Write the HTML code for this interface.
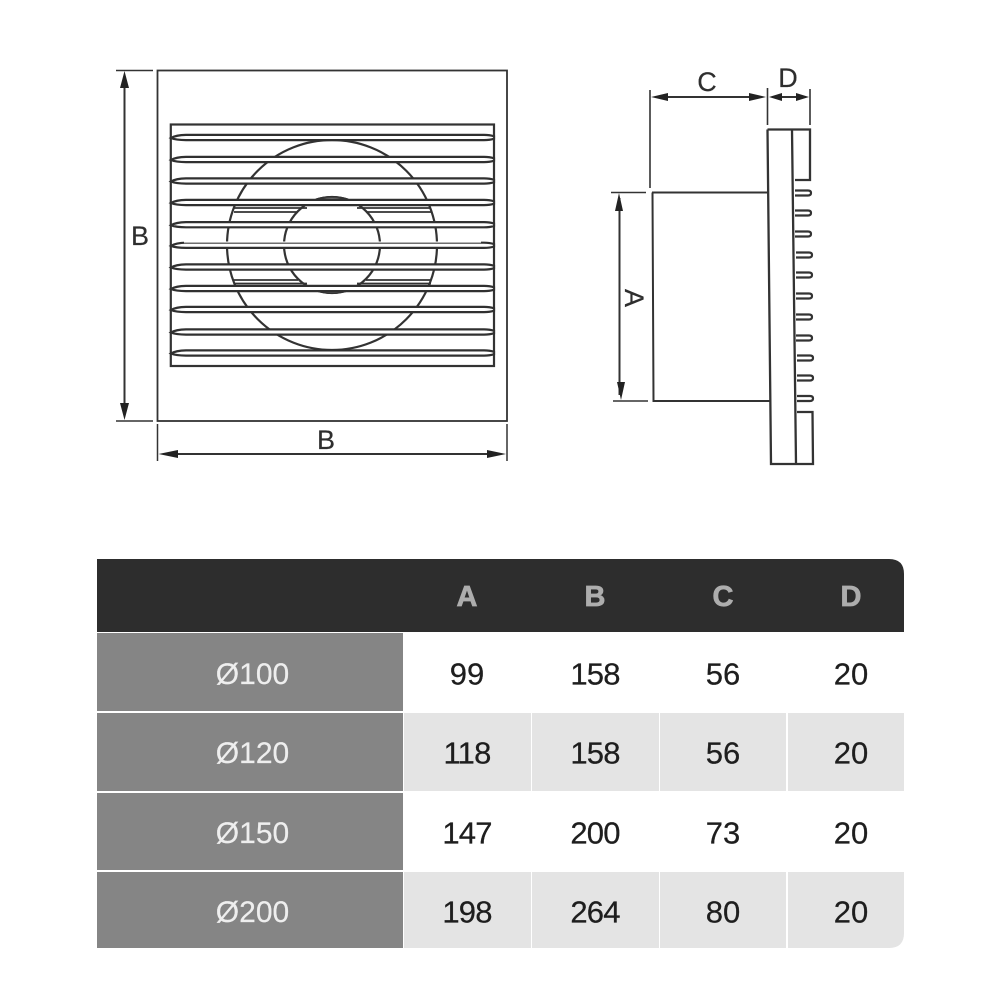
<!DOCTYPE html>
<html><head><meta charset="utf-8"><style>
html,body{margin:0;padding:0;background:#fff}
svg{display:block}
text{font-family:"Liberation Sans",sans-serif}
</style></head><body>
<svg width="1000" height="1000" viewBox="0 0 1000 1000" xmlns="http://www.w3.org/2000/svg">
<defs>
<g id="s"><path d="M171 0.5 Q176 -2.4 186 -2.6 H484 Q490 -2.6 494 -1.2 V1.2 Q490 2.6 484 2.6 H186 Q176 2.6 171 0.5Z" fill="#fff" stroke="#303030" stroke-width="2.2"/></g>
</defs>
<g fill="none" stroke="#333">
<rect x="157.500" y="70.500" width="349.500" height="350.500" stroke-width="1.800"/>
<rect x="170.800" y="124.500" width="323.200" height="241.500" stroke-width="2.200"/>
<circle cx="332" cy="245" r="105" stroke-width="2.200"/>
<circle cx="332" cy="245" r="48" stroke-width="2.200"/>
<path d="M234 208H307M234 212H298M234 280H298M234 283.500H307M357 208H431M366 212H431M366 280H431M357 283.500H431" stroke-width="1.800"/>
<path d="M316 199Q332 194 348 199Q332 197 316 199ZM316 291Q332 296 348 291Q332 293 316 291Z" fill="#555" stroke-width="1"/>
</g>
<use href="#s" y="137.500"/><use href="#s" y="159.500"/><use href="#s" y="181"/><use href="#s" y="202.500"/><use href="#s" y="224.700"/><use href="#s" y="245.300"/><use href="#s" y="267"/><use href="#s" y="288.500"/><use href="#s" y="309.500"/><use href="#s" y="332"/><use href="#s" y="353"/>
<path d="M184 242.700H481" stroke="#fff" stroke-width="2.400" fill="none"/>
<path d="M184 243.200H481" stroke="#6e6e6e" stroke-width="1.500" fill="none"/>
<g fill="none" stroke="#333">
<path d="M116 70.500H153M116 421H153M157.500 424V461M507 424V461" stroke-width="1.500"/>
<path d="M124.500 78V412M168 454H498" stroke-width="2"/>
<path d="M650 90V188M767.500 88V125M810 89V125M611 192.500H646M613 401H648" stroke-width="1.600"/>
<path d="M655 97H762M772 97H806M619.500 198V395" stroke-width="2"/>
<path d="M652 192.500H768M652.500 192.500L653.500 401H770" stroke-width="2"/>
<path d="M767.500 129.500H810V180H795M767.500 129.500L771 464H813L812.500 412H797M792 129.500L796 464" stroke-width="2.300"/>
<path d="M795 190.500H808Q811 190.500 811 193Q811 195.500 808 195.500H795M795 210.500H808Q811 210.500 811 213Q811 215.500 808 215.500H795M795 231.500H808Q811 231.500 811 234Q811 236.500 808 236.500H795M796 252.500H809Q812 252.500 812 255Q812 257.500 809 257.500H796M796 272.500H809Q812 272.500 812 275Q812 277.500 809 277.500H796M796 293.500H809Q812 293.500 812 296Q812 298.500 809 298.500H796M796 314.500H809Q812 314.500 812 317Q812 319.500 809 319.500H796M796 335.500H809Q812 335.500 812 338Q812 340.500 809 340.500H796M797 355.500H810Q813 355.500 813 358Q813 360.500 810 360.500H797M797 375.500H810Q813 375.500 813 378Q813 380.500 810 380.500H797M797 396H810Q813 396 813 398.500Q813 401 810 401H797" stroke-width="2.200"/>
</g>
<g fill="#222">
<path d="M124.500 71L120 88H129ZM124.500 420L120 403H129Z"/>
<path d="M158.500 454L178 450V458ZM506 454L487 450V458Z"/>
<path d="M651 97L668 93V101ZM766 97L749 93V101ZM769 97L782 93V101ZM809 97L796 93V101Z"/>
<path d="M619 193L615 211H623ZM621 400L617 382H625Z"/>
</g>
<g fill="#2e2e2e" font-size="27" stroke="#2e2e2e" stroke-width="0.200">
<text x="140" y="245" text-anchor="middle">B</text>
<text x="326" y="449" text-anchor="middle">B</text>
<text x="707" y="91" text-anchor="middle">C</text>
<text x="788" y="87" text-anchor="middle">D</text>
<text transform="translate(625 298) rotate(90)" text-anchor="middle">A</text>
</g>
<path d="M97 559H889Q904 559 904 574V632H97Z" fill="#2d2d2d"/>
<g fill="#858585">
<rect x="97" y="633" width="306" height="78"/>
<rect x="97" y="713" width="306" height="78"/>
<rect x="97" y="793" width="306" height="77"/>
<rect x="97" y="872" width="306" height="76"/>
</g>
<g fill="#e4e4e4">
<rect x="404" y="713" width="127" height="78"/><rect x="532" y="713" width="127" height="78"/><rect x="660" y="713" width="126" height="78"/><rect x="788" y="713" width="116" height="78"/>
<rect x="404" y="872" width="127" height="76"/><rect x="532" y="872" width="127" height="76"/><rect x="660" y="872" width="126" height="76"/>
<path d="M788 872H904V933Q904 948 889 948H788Z"/>
</g>
<g fill="#adadad" stroke="#adadad" stroke-width="0.700" font-size="29" font-weight="bold" text-anchor="middle">
<text x="467" y="606">A</text><text x="595" y="606">B</text><text x="723" y="606">C</text><text x="851" y="606">D</text>
</g>
<g fill="#eeeeee" font-size="30" text-anchor="middle" stroke="#eeeeee" stroke-width="0.200">
<text x="252.500" y="684">Ø100</text><text x="252.500" y="763">Ø120</text><text x="252.500" y="843">Ø150</text><text x="252.500" y="922">Ø200</text>
</g>
<g fill="#1e1e1e" font-size="31" text-anchor="middle" stroke="#1e1e1e" stroke-width="0.250">
<text x="467" y="684.500">99</text><text x="595" y="684.500" letter-spacing="-0.800">158</text><text x="723" y="684.500">56</text><text x="851" y="684.500">20</text>
<text x="467" y="763.500" letter-spacing="-0.800">118</text><text x="595" y="763.500" letter-spacing="-0.800">158</text><text x="723" y="763.500">56</text><text x="851" y="763.500">20</text>
<text x="467" y="843.500" letter-spacing="-0.800">147</text><text x="595" y="843.500" letter-spacing="-0.800">200</text><text x="723" y="843.500">73</text><text x="851" y="843.500">20</text>
<text x="467" y="922.500" letter-spacing="-0.800">198</text><text x="595" y="922.500" letter-spacing="-0.800">264</text><text x="723" y="922.500">80</text><text x="851" y="922.500">20</text>
</g>
</svg>
</body></html>
